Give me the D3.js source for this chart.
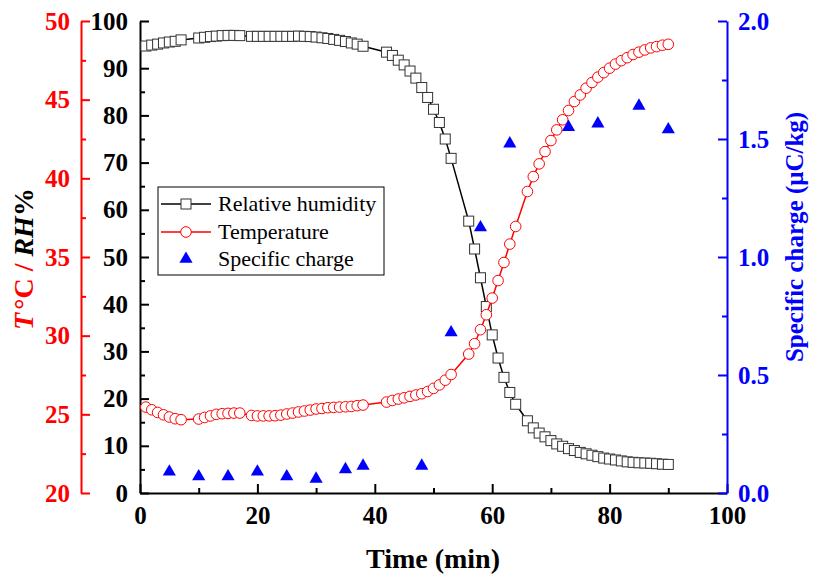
<!DOCTYPE html>
<html>
<head>
<meta charset="utf-8">
<script src="https://cdn.jsdelivr.net/npm/d3@7"></script>
<style>
  body { margin: 0; background: #fff; }
  svg { display: block; }
  text { font-family: "Liberation Serif", "Times New Roman", serif; }
</style>
</head>
<body>
<svg id="chart" width="815" height="577"></svg>
<script>
// time stamps (min) shared by humidity and temperature
const timeMin = [1,2,3,4,5,6,7, 10,11,12,13,14,15,16,17,
  19,20,21,22,23,24,25,26,27,28,29,30,31,32,33,34,35,36,37,38,
  42,43,44,45,46,47,48,49,50,51,52,53,
  56,57,58,59,60,61,62,63,64,
  66,67,68,69,70,71,72,73,74,75,76,77,78,79,80,81,82,83,84,85,86,87,88,89,90];

const humidity = [94.7,94.9,95.1,95.35,95.55,95.7,96.0, 96.4,96.55,96.7,96.8,96.9,96.95,96.95,96.9,
  96.75,96.75,96.75,96.75,96.75,96.75,96.75,96.75,96.8,96.75,96.7,96.6,96.45,96.3,96.1,95.9,95.65,95.35,95.1,94.65,
  93.4,92.7,91.7,90.7,89.4,87.9,85.9,83.8,81.3,78.5,75.0,70.9,
  57.6,51.7,45.6,39.5,33.5,28.6,24.5,21.3,18.8,
  15.3,13.8,12.7,11.9,11.1,10.4,9.9,9.4,9.0,8.6,8.3,8.0,7.7,7.4,7.2,7.0,6.8,6.6,6.5,6.4,6.35,6.3,6.2,6.1,6.05];

const temperature = [25.46,25.29,25.12,24.97,24.83,24.72,24.66, 24.7,24.8,24.9,25.0,25.04,25.06,25.08,25.08,
  24.93,24.9,24.9,24.9,24.91,24.95,25.02,25.08,25.15,25.21,25.27,25.34,25.37,25.42,25.44,25.46,25.48,25.5,25.55,25.59,
  25.78,25.88,25.97,26.05,26.14,26.23,26.31,26.45,26.65,26.87,27.17,27.53,
  28.83,29.49,30.38,31.33,32.39,33.5,34.65,35.82,36.94,
  39.16,40.11,40.92,41.7,42.4,43.08,43.72,44.31,44.88,45.3,45.73,46.09,46.43,46.72,47.0,47.26,47.48,47.67,47.87,48.02,48.16,48.29,48.37,48.46,48.52];

// specific charge (uC/kg)
const chargeTime = [5,10,15,20,25,30,35,38,48,53,58,63,73,78,85,90];
const chargeValue = [0.09,0.07,0.07,0.09,0.07,0.06,0.10,0.115,0.115,0.68,1.125,1.48,1.55,1.565,1.64,1.54];

const xTicks = [0,20,40,60,80,100];
const rhTicks = [0,10,20,30,40,50,60,70,80,90,100];
const tTicks = [20,25,30,35,40,45,50];
const qTicks = [0,0.5,1,1.5,2];

const legendItems = ["Relative humidity", "Temperature", "Specific charge"];

const svg = d3.select("#chart");

const x = d3.scaleLinear().domain([0,100]).range([140,727]);
const yRH = d3.scaleLinear().domain([0,100]).range([493,21]);
const yT = d3.scaleLinear().domain([20,50]).range([493,21]);
const yQ = d3.scaleLinear().domain([0,2]).range([493,21]);

let styleAxis = (g, color, size) => {
  g.select(".domain").attr("stroke", color).attr("stroke-width", 2);
  g.selectAll(".tick line").attr("stroke", color).attr("stroke-width", 2);
  g.selectAll(".tick text").attr("fill", color)
    .style("font-size", size + "px").style("font-weight", "bold")
    .style("font-family", "'Liberation Serif', 'Times New Roman', serif");
};

// minor ticks first, then major axes on top
let minor = (axis, vals, tx, ty, color) => {
  svg.append("g").attr("transform", `translate(${tx},${ty})`)
    .call(axis.tickValues(vals).tickSizeInner(-5).tickSizeOuter(0).tickFormat(""))
    .call(g => { g.select(".domain").remove(); g.selectAll(".tick line").attr("stroke", color).attr("stroke-width", 2); });
};
minor(d3.axisBottom(x), [10,30,50,70,90], 0, 493, "#000");
minor(d3.axisLeft(yRH), [5,15,25,35,45,55,65,75,85,95], 140, 0, "#000");
minor(d3.axisLeft(yT), [22.5,27.5,32.5,37.5,42.5,47.5], 81, 0, "#f00");
minor(d3.axisRight(yQ), [0.25,0.75,1.25,1.75], 727, 0, "#00f");

svg.append("g").attr("transform", "translate(0,493)")
  .call(d3.axisBottom(x).tickValues(xTicks).tickSizeInner(-9).tickSizeOuter(0).tickPadding(13))
  .call(g => styleAxis(g, "#000", 25));

svg.append("g").attr("transform", "translate(140,0)")
  .call(d3.axisLeft(yRH).tickValues(rhTicks).tickSizeInner(-9).tickSizeOuter(0).tickPadding(12))
  .call(g => styleAxis(g, "#000", 25));

svg.append("g").attr("transform", "translate(81,0)")
  .call(d3.axisLeft(yT).tickValues(tTicks).tickSizeInner(-9).tickSizeOuter(0).tickPadding(11))
  .call(g => styleAxis(g, "#f00", 25));

svg.append("g").attr("transform", "translate(727,0)")
  .call(d3.axisRight(yQ).tickValues(qTicks).tickSizeInner(-9).tickSizeOuter(0).tickPadding(11)
    .tickFormat(d3.format(".1f")))
  .call(g => styleAxis(g, "#00f", 25));

// axis titles
svg.append("text").attr("x", 433).attr("y", 568).attr("text-anchor", "middle")
  .style("font-size", "28px").style("font-weight", "bold").text("Time (min)");

let leftTitle = svg.append("text")
  .attr("transform", "translate(33,259) rotate(-90)")
  .attr("text-anchor", "middle")
  .style("font-size", "28px").style("font-weight", "bold");
leftTitle.append("tspan").attr("fill", "#f00").style("font-style", "italic").text("T");
leftTitle.append("tspan").attr("fill", "#f00").attr("dx", 3).text("\u00b0C / ");
leftTitle.append("tspan").attr("fill", "#000").style("font-style", "italic").text("RH");
leftTitle.append("tspan").attr("fill", "#000").text("%");

svg.append("text")
  .attr("transform", "translate(803,237) rotate(-90)")
  .attr("text-anchor", "middle").attr("fill", "#00f")
  .style("font-size", "25px").style("font-weight", "bold")
  .text("Specific charge (\u03bcC/kg)");

const rhData = timeMin.map((t, i) => ({t, v: humidity[i]}));
const tData = timeMin.map((t, i) => ({t, v: temperature[i]}));
const qData = chargeTime.map((t, i) => ({t, v: chargeValue[i]}));

// relative humidity
svg.append("path").datum(rhData)
  .attr("d", d3.line().x(d => x(d.t)).y(d => yRH(d.v)))
  .attr("fill", "none").attr("stroke", "#000").attr("stroke-width", 1.5);

svg.selectAll(".sq").data(rhData).enter().append("rect")
  .attr("class", "sq")
  .attr("x", d => x(d.t) - 5).attr("y", d => yRH(d.v) - 5)
  .attr("width", 10).attr("height", 10)
  .attr("fill", "#fff").attr("stroke", "#333").attr("stroke-width", 1);

// temperature
svg.append("path").datum(tData)
  .attr("d", d3.line().x(d => x(d.t)).y(d => yT(d.v)))
  .attr("fill", "none").attr("stroke", "#f00").attr("stroke-width", 1.5);

svg.selectAll(".circ").data(tData).enter().append("circle")
  .attr("class", "circ")
  .attr("cx", d => x(d.t)).attr("cy", d => yT(d.v)).attr("r", 5.3)
  .attr("fill", "#fff").attr("stroke", "#f00").attr("stroke-width", 1);

// specific charge
const tri = d3.symbol().type(d3.symbolTriangle).size(75);
svg.selectAll(".tri").data(qData).enter().append("path")
  .attr("class", "tri")
  .attr("transform", d => `translate(${x(d.t)},${yQ(d.v)})`)
  .attr("d", tri).attr("fill", "#00f");

// legend
const lg = svg.append("g");
lg.append("rect").attr("x", 158).attr("y", 187).attr("width", 226).attr("height", 88)
  .attr("fill", "#fff").attr("stroke", "#000").attr("stroke-width", 1);
const rowY = [204, 232, 259];
lg.append("line").attr("x1", 161).attr("x2", 211).attr("y1", rowY[0]).attr("y2", rowY[0]).attr("stroke", "#000").attr("stroke-width", 1.5);
lg.append("rect").attr("x", 181).attr("y", rowY[0] - 5).attr("width", 10).attr("height", 10)
  .attr("fill", "#fff").attr("stroke", "#333");
lg.append("line").attr("x1", 161).attr("x2", 211).attr("y1", rowY[1]).attr("y2", rowY[1]).attr("stroke", "#f00").attr("stroke-width", 1.5);
lg.append("circle").attr("cx", 186).attr("cy", rowY[1]).attr("r", 5.3)
  .attr("fill", "#fff").attr("stroke", "#f00");
lg.append("path").attr("transform", `translate(186,${rowY[2]})`).attr("d", tri).attr("fill", "#00f");
lg.selectAll(".lt").data(legendItems).enter().append("text")
  .attr("x", 218).attr("y", (d, i) => rowY[i] + 7)
  .style("font-size", "22px").text(d => d);
</script>
</body>
</html>
